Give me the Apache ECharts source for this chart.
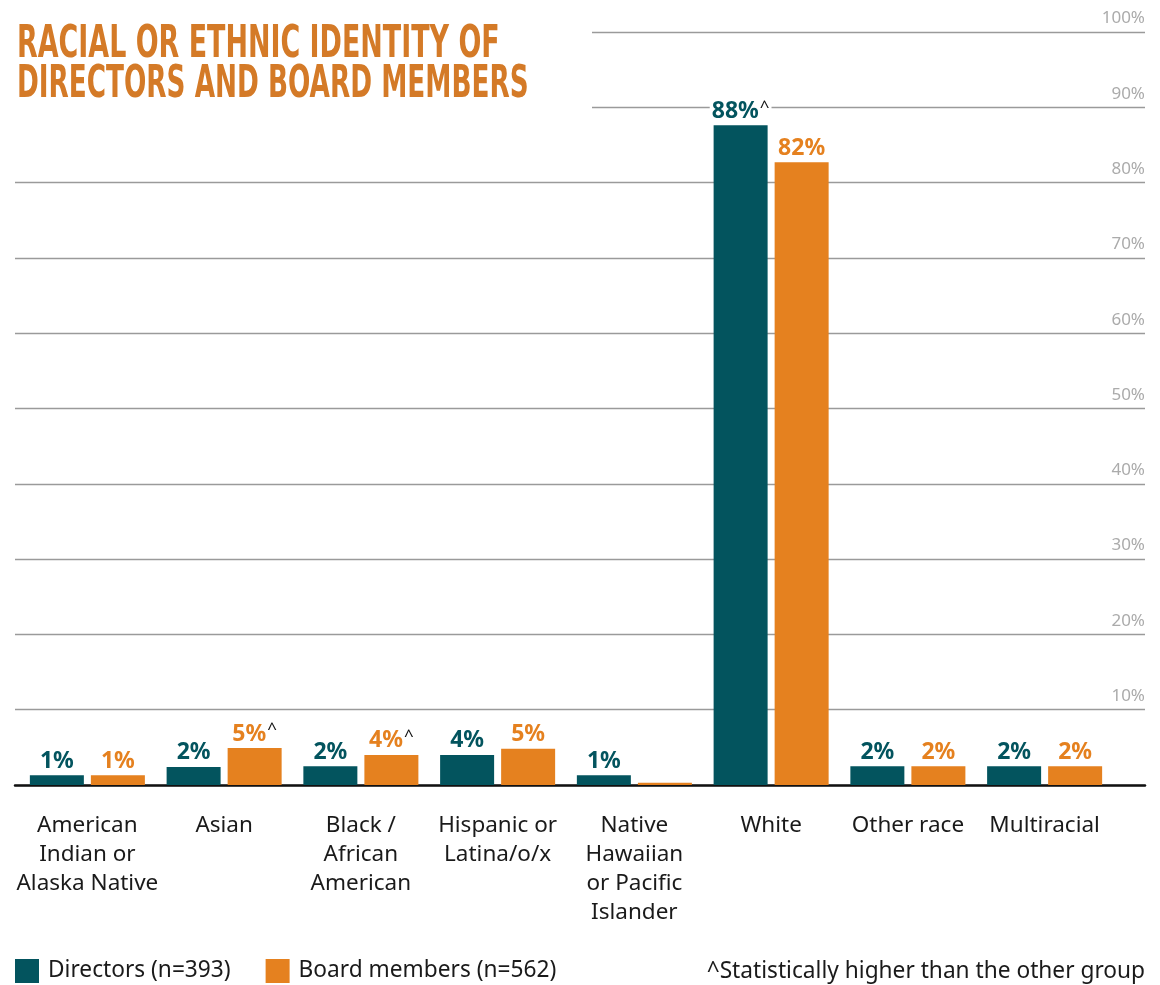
<!DOCTYPE html>
<html>
<head>
<meta charset="utf-8">
<script src="https://cdn.jsdelivr.net/npm/echarts@6/dist/echarts.min.js"></script>
<style>
html,body{margin:0;padding:0;background:#fff;}
#chart{width:1160px;height:985px;}
</style>
</head>
<body>
<div id="chart"></div>
<script>
// ---- data ----
var titleLines = ["RACIAL OR ETHNIC IDENTITY OF", "DIRECTORS AND BOARD MEMBERS"];
var categories = [
  "American\nIndian or\nAlaska Native",
  "Asian",
  "Black /\nAfrican\nAmerican",
  "Hispanic or\nLatina/o/x",
  "Native\nHawaiian\nor Pacific\nIslander",
  "White",
  "Other race",
  "Multiracial"
];
var directorsValues = [1.3, 2.4, 2.5, 4.0, 1.3, 87.6, 2.5, 2.5];
var boardValues     = [1.3, 4.9, 4.0, 4.8, 0.3, 82.7, 2.5, 2.5];
var directorsLabels = ["1%", "2%", "2%", "4%", "1%", "88%", "2%", "2%"];
var boardLabels     = ["1%", "5%", "4%", "5%", "", "82%", "2%", "2%"];
var directorsHigher = [false, false, false, false, false, true, false, false];
var boardHigher     = [false, true, true, false, false, false, false, false];
var yTicks = [0, 10, 20, 30, 40, 50, 60, 70, 80, 90, 100];

var TEAL = "#03545E", ORANGE = "#E5811F", TITLE = "#D47A27";
var TEXTFONT = "Noto Sans";

function labelFormatter(labels, higher) {
  return function (p) {
    var t = labels[p.dataIndex];
    if (!t) return "";
    return "{v|" + t + "}" + (higher[p.dataIndex] ? "{c|^}" : "");
  };
}
function labelCfg(color, labels, higher) {
  return {
    show: true,
    position: "top",
    distance: 1,
    backgroundColor: "#fff",
    padding: [0, 2, 0, 2],
    formatter: labelFormatter(labels, higher),
    rich: {
      v: { fontFamily: TEXTFONT, fontWeight: "bold", fontSize: 23, color: color, lineHeight: 26 },
      c: { fontFamily: TEXTFONT, fontSize: 17, color: "#111", lineHeight: 26, verticalAlign: "top", padding: [0, 0, 8, 1] }
    }
  };
}

var chart = echarts.init(document.getElementById("chart"), null, { renderer: "canvas" });
chart.setOption({
  animation: false,
  backgroundColor: "#fff",
  title: [
    {
      text: "^Statistically higher than the other group",
      right: 15, top: 959, padding: 0,
      textStyle: { fontFamily: TEXTFONT, fontWeight: "normal", fontSize: 22.7, lineHeight: 26, color: "#1a1a1a" }
    }
  ],
  graphic: [
    { type: "rect", x: 0, y: 0, z: 10, shape: { x: 0, y: 0, width: 592, height: 120 }, style: { fill: "#fff" } },
    {
      type: "text", x: 17, y: 46, scaleX: 0.68, z: 20,
      style: { text: titleLines[0], x: 0, y: 0, textAlign: "left", textVerticalAlign: "middle",
               font: "bold 44px 'DejaVu Sans Condensed', 'DejaVu Sans', sans-serif", fill: TITLE }
    },
    {
      type: "text", x: 17, y: 86, scaleX: 0.664, z: 20,
      style: { text: titleLines[1], x: 0, y: 0, textAlign: "left", textVerticalAlign: "middle",
               font: "bold 44px 'DejaVu Sans Condensed', 'DejaVu Sans', sans-serif", fill: TITLE }
    }
  ],
  legend: {
    left: 15, top: 959, padding: 0,
    itemWidth: 24, itemHeight: 24, itemGap: 35,
    icon: "rect",
    textStyle: { fontFamily: TEXTFONT, fontSize: 22.7, color: "#1a1a1a", padding: [0, 0, 0, 4] },
    data: ["Directors (n=393)", "Board members (n=562)"]
  },
  grid: [
    { left: 19, right: 47, top: 32, bottom: 200 },
    { left: 15, right: 15, top: 32, bottom: 200 }
  ],
  xAxis: [
    {
      type: "category", gridIndex: 0, data: categories,
      axisLine: { show: false }, axisTick: { show: false },
      axisLabel: { interval: 0, margin: 26, fontFamily: TEXTFONT, fontSize: 22.5, lineHeight: 29, color: "#1a1a1a", align: "center" }
    },
    {
      type: "value", gridIndex: 1, min: 0, max: 1,
      axisLine: { show: true, lineStyle: { color: "#111", width: 2.5 } },
      axisTick: { show: false }, axisLabel: { show: false }, splitLine: { show: false }
    }
  ],
  yAxis: [
    { type: "value", gridIndex: 0, min: 0, max: 100, interval: 10, show: false, splitLine: { show: false } },
    {
      type: "value", gridIndex: 1, min: yTicks[0], max: yTicks[yTicks.length - 1], interval: 10,
      position: "right",
      axisLine: { show: false }, axisTick: { show: false },
      splitLine: { show: true, lineStyle: { color: "#9a9a9a", width: 1.3 } },
      axisLabel: {
        inside: true, margin: 0, verticalAlign: "bottom", padding: [0, 0, 5, 0],
        fontFamily: TEXTFONT, fontSize: 17, color: "#ababab",
        formatter: function (v) { return v === 0 ? "" : v + "%"; }
      }
    }
  ],
  series: [
    {
      name: "Directors (n=393)", type: "bar", xAxisIndex: 0, yAxisIndex: 0,
      data: directorsValues, barWidth: 54, barGap: "13%",
      itemStyle: { color: TEAL },
      label: labelCfg(TEAL, directorsLabels, directorsHigher)
    },
    {
      name: "Board members (n=562)", type: "bar", xAxisIndex: 0, yAxisIndex: 0,
      data: boardValues, barWidth: 54, barGap: "13%",
      itemStyle: { color: ORANGE },
      label: labelCfg(ORANGE, boardLabels, boardHigher)
    }
  ]
});
</script>
</body>
</html>
